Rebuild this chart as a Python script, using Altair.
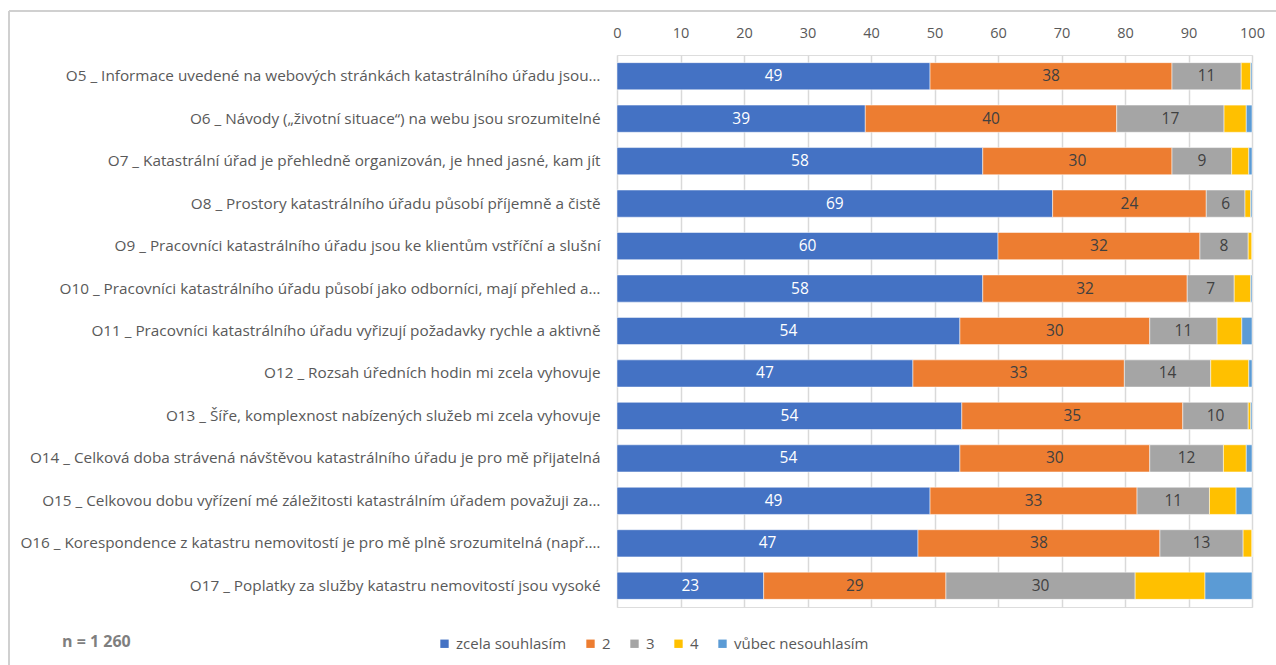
import altair as alt
import pandas as pd

questions = [
    "O5 _ Informace uvedené na webových stránkách katastrálního úřadu jsou…",
    "O6 _ Návody („životní situace“) na webu jsou srozumitelné",
    "O7 _ Katastrální úřad je přehledně organizován, je hned jasné, kam jít",
    "O8 _ Prostory katastrálního úřadu působí příjemně a čistě",
    "O9 _ Pracovníci katastrálního úřadu jsou ke klientům vstříční a slušní",
    "O10 _ Pracovníci katastrálního úřadu působí jako odborníci, mají přehled a…",
    "O11 _ Pracovníci katastrálního úřadu vyřizují požadavky rychle a aktivně",
    "O12 _ Rozsah úředních hodin mi zcela vyhovuje",
    "O13 _ Šíře, komplexnost nabízených služeb mi zcela vyhovuje",
    "O14 _ Celková doba strávená návštěvou katastrálního úřadu je pro mě přijatelná",
    "O15 _ Celkovou dobu vyřízení mé záležitosti katastrálním úřadem považuji za…",
    "O16 _ Korespondence z katastru nemovitostí je pro mě plně srozumitelná (např.…",
    "O17 _ Poplatky za služby katastru nemovitostí jsou vysoké",
]
categories = ["zcela souhlasím", "2", "3", "4", "vůbec nesouhlasím"]
colors = ["#4472C4", "#ED7D31", "#A5A5A5", "#FFC000", "#5B9BD5"]

s1 = [49.3, 39.1, 57.6, 68.6, 60.0, 57.6, 54.0, 46.6, 54.3, 54.0, 49.3, 47.4, 23.1]
s2 = [38.1, 39.6, 29.8, 24.2, 31.8, 32.2, 29.9, 33.3, 34.8, 29.9, 32.6, 38.1, 28.7]
s3 = [10.9, 16.9, 9.4, 6.1, 7.6, 7.4, 10.6, 13.6, 10.3, 11.6, 11.4, 13.1, 29.8]
s4 = [1.5, 3.5, 2.7, 0.9, 0.6, 2.6, 3.9, 6.0, 0.4, 3.6, 4.2, 1.4, 11.0]
s5 = [0.2, 0.9, 0.5, 0.2, 0.0, 0.2, 1.6, 0.5, 0.2, 0.9, 2.5, 0.0, 7.4]
x_ticks = [0, 10, 20, 30, 40, 50, 60, 70, 80, 90, 100]
n_note = "n = 1 260"

series = [s1, s2, s3, s4, s5]
rows = []
for qi, q in enumerate(questions):
    start = 0.0
    for ci, cat in enumerate(categories):
        v = series[ci][qi]
        rows.append({
            "q": q, "cat": cat, "order": ci, "v": v,
            "x0": start, "x1": start + v, "mid": start + v / 2,
            "label": f"{round(v)}" if ci < 3 else "",
            "tcol": "white" if ci == 0 else "dark",
        })
        start += v
df = pd.DataFrame(rows)

FONT = "Open Sans"
W, H = 635, 552

y_enc = alt.Y("q:N", sort=questions, title=None,
              scale=alt.Scale(paddingInner=0.36, paddingOuter=0.18),
              axis=alt.Axis(labelFont=FONT, labelFontSize=15.3, labelColor="#595959",
                            labelPadding=17, ticks=False, domain=False, grid=False,
                            labelLimit=700))

bars = alt.Chart(df).mark_bar(stroke="white", strokeWidth=0.5).encode(
    x=alt.X("x0:Q", scale=alt.Scale(domain=[0, 100], nice=False), title=None,
            axis=alt.Axis(orient="top", values=x_ticks, labelFont=FONT, labelFontSize=14.5,
                          labelColor="#595959", labelPadding=15, tickSize=0, domain=False,
                          labelFlush=False,
                          grid=True, gridColor="#d9d9d9", gridWidth=1.5)),
    x2="x1:Q",
    y=y_enc,
    color=alt.Color("cat:N", sort=categories,
                    scale=alt.Scale(domain=categories, range=colors),
                    legend=alt.Legend(title=None, orient="none", direction="horizontal",
                                      legendX=-180, legendY=581, symbolType="square",
                                      symbolSize=70, symbolStrokeWidth=0,
                                      labelFont=FONT, labelFontSize=15, labelColor="#595959",
                                      columnPadding=16, labelOffset=4)),
)

labels = alt.Chart(df).mark_text(font=FONT, fontSize=15.5, baseline="middle").encode(
    x="mid:Q",
    y=alt.Y("q:N", sort=questions),
    text="label:N",
    color=alt.Color("tcol:N", scale=alt.Scale(domain=["white", "dark"], range=["#ffffff", "#404040"]),
                    legend=None),
)

note = alt.Chart(pd.DataFrame({"t": [n_note]})).mark_text(
    font=FONT, fontSize=16, fontWeight="bold", color="#7f7f7f", align="left", baseline="middle"
).encode(x=alt.value(-555), y=alt.value(587), text="t:N")

frame_top = alt.Chart(pd.DataFrame({"a": [0]})).mark_rule(color="#d0d0d0", strokeWidth=2).encode(
    x=alt.value(-608), x2=alt.value(680), y=alt.value(-44))
frame_left = alt.Chart(pd.DataFrame({"a": [0]})).mark_rule(color="#d0d0d0", strokeWidth=2).encode(
    x=alt.value(-608), y=alt.value(-44), y2=alt.value(620))

chart = alt.layer(bars, labels, note, frame_top, frame_left).resolve_scale(
    color="independent"
).properties(
    width=W, height=H,
    autosize=alt.AutoSizeParams(type="none"),
    padding={"left": 617, "top": 55, "right": 24, "bottom": 58},
).configure_view(stroke=None).configure(background="white")

chart.save("out.html", embed_options={"renderer": "svg", "actions": False})
